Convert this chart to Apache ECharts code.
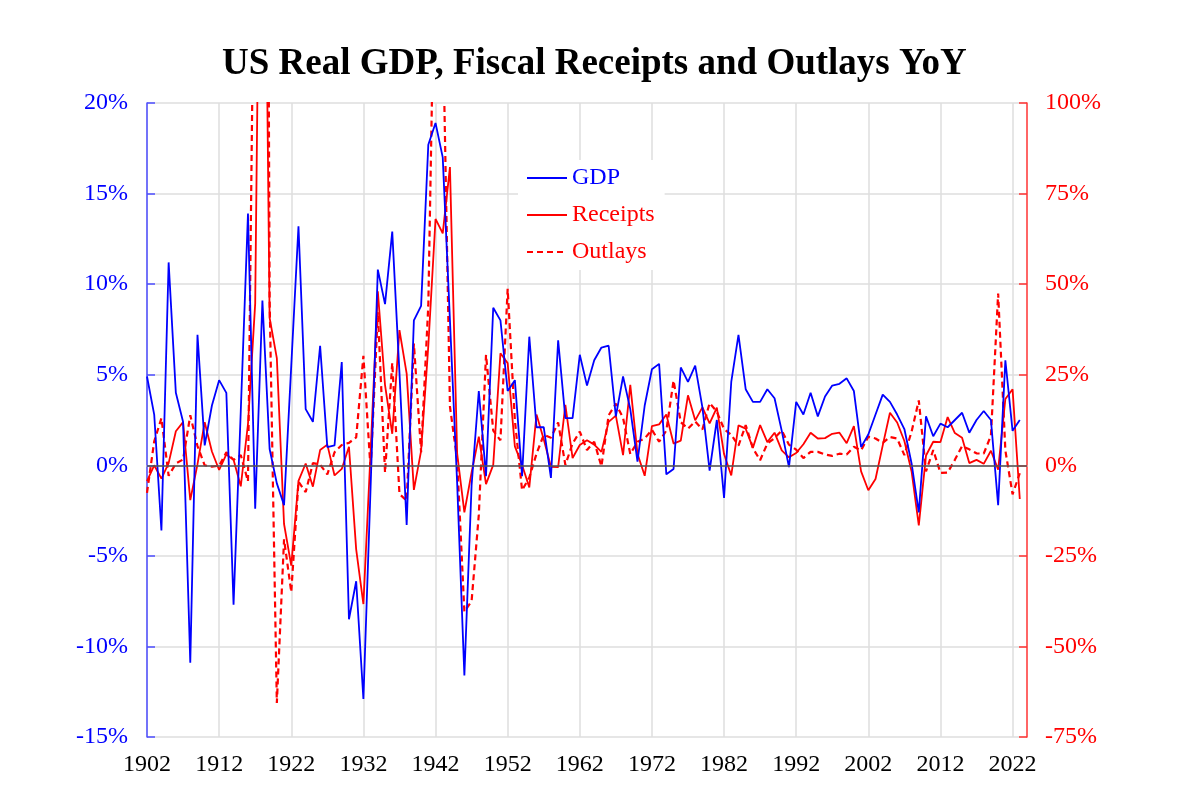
<!DOCTYPE html>
<html>
<head>
<meta charset="utf-8">
<title>US Real GDP, Fiscal Receipts and Outlays YoY</title>
<script src="https://cdn.jsdelivr.net/npm/echarts@6/dist/echarts.min.js"></script>
<style>
  html, body { margin: 0; padding: 0; background: #fff; }
  #chart { width: 1200px; height: 800px; }
</style>
</head>
<body>
<div id="chart"></div>
<script>
// years on the x axis (1902 .. 2024, last slot is empty)
var years = [];
for (var y = 1902; y <= 2024; y++) years.push(String(y));

// real GDP YoY, %  (1902 .. 2023)
var gdp = [
  4.9, 2.8, -3.6, 11.2, 4.0, 2.4, -10.9, 7.2, 1.1, 3.3,
  4.7, 4.0, -7.7, 3.0, 13.9, -2.4, 9.1, 0.9, -1.0, -2.2,
  5.5, 13.2, 3.1, 2.4, 6.6, 1.0, 1.1, 5.7, -8.5, -6.4,
  -12.9, -1.2, 10.8, 8.9, 12.9, 5.1, -3.3, 8.0, 8.8, 17.7,
  18.9, 17.0, 8.0, -1.0, -11.6, -1.1, 4.1, -0.6, 8.7, 8.0,
  4.1, 4.7, -0.6, 7.1, 2.1, 2.1, -0.7, 6.9, 2.6, 2.6,
  6.1, 4.4, 5.8, 6.5, 6.6, 2.7, 4.9, 3.1, 0.2, 3.3,
  5.3, 5.6, -0.5, -0.2, 5.4, 4.6, 5.5, 3.2, -0.3, 2.5,
  -1.8, 4.6, 7.2, 4.2, 3.5, 3.5, 4.2, 3.7, 1.9, -0.1,
  3.5, 2.8, 4.0, 2.7, 3.8, 4.4, 4.5, 4.8, 4.1, 1.0,
  1.7, 2.8, 3.9, 3.5, 2.8, 2.0, 0.1, -2.6, 2.7, 1.6,
  2.3, 2.1, 2.5, 2.9, 1.8, 2.5, 3.0, 2.5, -2.2, 5.8,
  1.9, 2.5
];

// federal receipts YoY, %  (right axis)
var receipts = [
  -4.4, 0.0, -3.7, 0.6, 9.4, 11.9, -9.6, 0.3, 11.9, 3.8,
  -1.3, 3.0, 1.5, -5.8, 11.4, 44.7, 231, 40.7, 29.6, -16.2,
  -27.7, -4.3, 0.5, -5.9, 4.2, 5.7, -2.8, -1.0, 5.1, -23.2,
  -38.3, 3.8, 48.0, 22.1, 8.7, 37.3, 25.3, -6.8, 4.0, 33.0,
  68.0, 64.0, 82.3, 3.2, -13.0, -2.0, 7.9, -5.2, 0.1, 30.9,
  28.2, 5.2, 0.1, -6.1, 14.0, 7.2, -0.4, -0.5, 16.7, 2.0,
  5.6, 6.9, 5.7, 3.7, 12.0, 13.7, 2.8, 22.2, 3.2, -2.9,
  10.8, 11.3, 14.0, 6.0, 6.8, 19.3, 12.4, 16.0, 11.6, 15.9,
  3.1, -2.8, 11.0, 10.1, 4.8, 11.1, 6.4, 9.0, 4.1, 2.2,
  3.4, 5.8, 9.0, 7.4, 7.5, 8.7, 9.0, 6.1, 10.8, -1.7,
  -6.9, -3.8, 5.5, 14.5, 11.8, 6.7, -1.7, -16.6, 2.7, 6.5,
  6.4, 13.3, 8.9, 7.6, 0.6, 1.5, 0.4, 4.0, -1.2, 18.3,
  21.0, -9.3
];

// federal outlays YoY, %  (right axis)
var outlays = [
  -7.6, 6.6, 13.0, -2.9, 0.5, 1.6, 13.8, 5.3, 0.0, -0.4,
  -0.1, 3.6, 1.5, 2.8, -4.4, 174, 549, 45.9, -65.6, -20.4,
  -35.0, -4.5, -7.4, 0.6, 0.2, -2.5, 3.6, 5.6, 6.2, 7.7,
  30.2, -1.3, 42.3, -2.0, 28.3, -7.9, -9.8, 33.6, 3.6, 44.2,
  157, 124, 16.2, 1.5, -40.4, -37.5, -13.7, 30.5, 9.6, 6.9,
  48.7, 12.4, -6.9, -3.4, 3.2, 8.4, 7.6, 11.8, 0.1, 6.0,
  9.3, 4.2, 6.5, -0.3, 13.8, 17.0, 13.1, 3.1, 6.5, 7.4,
  9.8, 6.5, 9.6, 23.4, 11.9, 10.1, 12.1, 9.9, 17.2, 14.8,
  10.0, 8.4, 5.4, 11.1, 4.7, 1.4, 6.0, 7.5, 9.6, 5.7,
  4.3, 2.0, 3.7, 3.7, 3.0, 2.6, 3.2, 3.0, 5.1, 4.1,
  7.9, 7.4, 6.2, 7.8, 7.4, 2.8, 9.3, 17.9, -1.7, 4.2,
  -2.1, -2.0, 1.5, 5.3, 4.4, 3.3, 3.2, 8.2, 47.4, 4.1,
  -8.0, -2.2
];

var FONT = '"Liberation Serif", "Times New Roman", serif';
var BLUE = '#0000ff';
var RED = '#ff0000';
var GRID_GREY = '#dedede';

var myChart = echarts.init(document.getElementById('chart'));

var option = {
  backgroundColor: '#fff',
  animation: false,
  title: {
    text: 'US Real GDP, Fiscal Receipts and Outlays YoY',
    left: 217,
    top: 41,
    textStyle: { fontFamily: FONT, fontSize: 37, fontWeight: 'bold', color: '#000' }
  },
  legend: {
    orient: 'vertical',
    left: 518,
    top: 160,
    padding: [6, 10, 6, 8],
    backgroundColor: '#fff',
    itemWidth: 40,
    itemHeight: 14,
    itemGap: 13,
    itemStyle: { opacity: 0 },
    textStyle: { fontFamily: FONT, fontSize: 24 },
    data: [
      { name: 'GDP', textStyle: { color: BLUE } },
      { name: 'Receipts', textStyle: { color: RED } },
      { name: 'Outlays', textStyle: { color: RED } }
    ]
  },
  grid: { left: 147, right: 173, top: 103, bottom: 63 },
  xAxis: {
    type: 'category',
    data: years,
    boundaryGap: false,
    axisLine: { lineStyle: { color: '#d0d0d0', width: 1.5 } },
    axisTick: { show: false },
    axisLabel: {
      interval: 9,
      margin: 16,
      fontFamily: FONT,
      fontSize: 24,
      color: '#000'
    },
    splitLine: { show: true, interval: 9, lineStyle: { color: GRID_GREY, width: 1.5 } }
  },
  yAxis: [
    {
      type: 'value',
      min: -15,
      max: 20,
      interval: 5,
      position: 'left',
      axisLine: { show: true, lineStyle: { color: '#4d4dff', width: 1.5 } },
      axisTick: { show: true, inside: true, length: 8, lineStyle: { color: '#4d4dff', width: 1.5 } },
      axisLabel: { formatter: '{value}%', margin: 19, fontFamily: FONT, fontSize: 24, color: BLUE },
      splitLine: { show: true, lineStyle: { color: GRID_GREY, width: 1.5 } }
    },
    {
      type: 'value',
      min: -75,
      max: 100,
      interval: 25,
      position: 'right',
      axisLine: { show: true, lineStyle: { color: '#ff3333', width: 1.5 } },
      axisTick: { show: true, inside: true, length: 8, lineStyle: { color: '#ff3333', width: 1.5 } },
      axisLabel: { formatter: '{value}%', margin: 18, fontFamily: FONT, fontSize: 24, color: RED },
      splitLine: { show: false }
    }
  ],
  series: [
    {
      name: 'GDP',
      type: 'line',
      yAxisIndex: 0,
      data: gdp,
      symbol: 'none',
      clip: true,
      z: 3,
      lineStyle: { color: BLUE, width: 1.8 },
      itemStyle: { color: BLUE },
      markLine: {
        silent: true,
        symbol: 'none',
        label: { show: false },
        lineStyle: { color: '#555', type: 'solid', width: 1.5 },
        data: [{ yAxis: 0 }]
      }
    },
    {
      name: 'Receipts',
      type: 'line',
      yAxisIndex: 1,
      data: receipts,
      symbol: 'none',
      clip: true,
      z: 2,
      lineStyle: { color: RED, width: 1.8 },
      itemStyle: { color: RED }
    },
    {
      name: 'Outlays',
      type: 'line',
      yAxisIndex: 1,
      data: outlays,
      symbol: 'none',
      clip: true,
      z: 2,
      lineStyle: { color: RED, width: 2.2, type: [6, 4] },
      itemStyle: { color: RED }
    }
  ]
};

if (option && typeof option === 'object') {
  myChart.setOption(option, true);
}
</script>
</body>
</html>
